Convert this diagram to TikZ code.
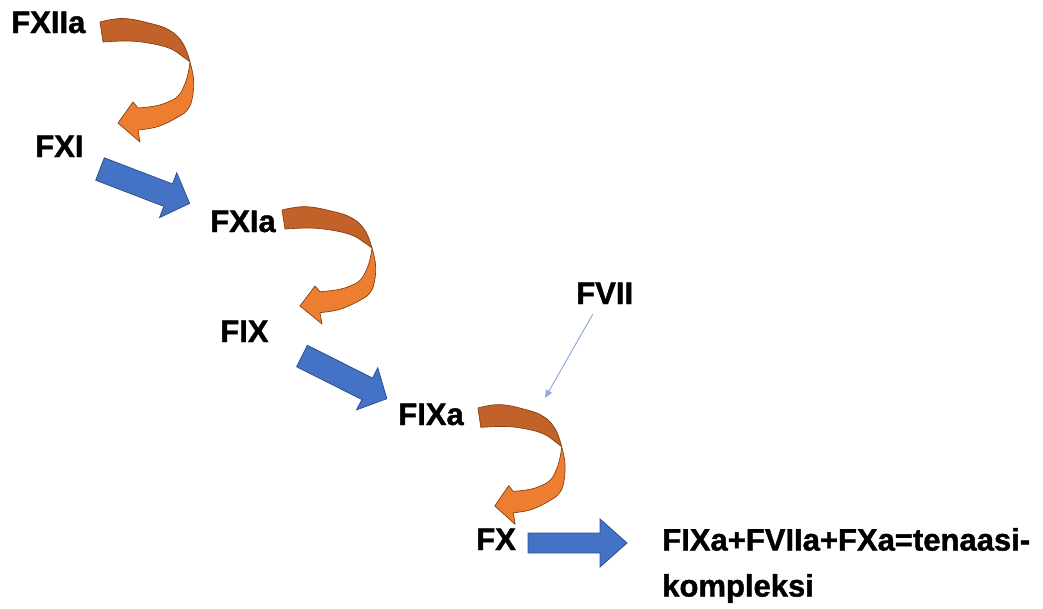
\documentclass[tikz,border=0pt]{standalone}
\usepackage{fontspec}
\setmainfont[BoldFeatures={FakeBold=1.3}]{Liberation Sans}
\usetikzlibrary{arrows.meta}

\definecolor{ribbonfront}{HTML}{ED7D31}
\definecolor{ribbonback}{HTML}{C0622A}
\definecolor{ribbonedge}{HTML}{843C0C}
\definecolor{blockfill}{HTML}{4472C4}
\definecolor{blockedge}{HTML}{2F528F}
\definecolor{thinblue}{HTML}{8FAADC}

\tikzset{
  factor/.style={font=\bfseries\fontsize{23.25}{34.5}\selectfont,
    inner xsep=0pt, inner ysep=7.5pt, anchor=base west},
  ribbon back/.style={fill=ribbonback, draw=ribbonedge, line width=0.5pt, line join=round},
  ribbon front/.style={fill=ribbonfront, draw=ribbonedge, line width=0.5pt, line join=round},
  block/.style={fill=blockfill, draw=blockedge, line width=0.6pt, line join=miter},
  activates/.style={draw=thinblue, line width=0.75pt,
    -{Triangle[length=6pt,width=5pt]}},
  % twisted ribbon arrow, origin at the upper corner of its tail
  pics/twist arrow/.style={code={
    \filldraw[ribbon back]
      plot[smooth,tension=0.7] coordinates {(0,0) (23,-3.5) (50,1.3) (70,8.5) (83,21.5) (90,40)}
      -- plot[smooth,tension=0.7] coordinates {(90,40) (83,34.7) (70,26.5) (50,21.3) (28,19) (3,20)}
      -- cycle;
    \filldraw[ribbon front]
      plot[smooth,tension=0.7] coordinates {(90,40) (93.5,57) (92.5,75) (88,87) (78,95) (58,104.5) (38,108)}
      -- (40,120) -- (18,101) -- (33,80) -- (38,86)
      -- plot[smooth,tension=0.7] coordinates {(38,86) (55,84) (68,80) (78,74) (84,64) (88,52) (90,40)}
      -- cycle;
  }},
  % straight block arrow: length, shaft width, head width, head length
  pics/block arrow/.style n args={4}{code={
    \filldraw[block] (0,-#2/2) -- (#1-#4,-#2/2) -- (#1-#4,-#3/2) -- (#1,0)
      -- (#1-#4,#3/2) -- (#1-#4,#2/2) -- (0,#2/2) -- cycle;
  }}
}

\begin{document}
\begin{tikzpicture}[x=0.75pt,y=-0.75pt]
\useasboundingbox (0,0) rectangle (1043,608);

% factor labels
\node[factor] (fxiia) at (11,33) {FXIIa};
\node[factor] (fxi)   at (35,157) {FXI};
\node[factor] (fxia)  at (210,232) {FXIa};
\node[factor] (fix)   at (220,342) {FIX};
\node[factor] (fixa)  at (398,425) {FIXa};
\node[factor] (fvii)  at (576,304) {FVII};
\node[factor] (fx)    at (476,550) {FX};
\node[factor, anchor=north west, inner ysep=0pt, align=left] (tenase)
  at (662,527.8) {FIXa+FVIIa+FXa=tenaasi-\\kompleksi};

% activation ribbons
\pic at (100,22) {twist arrow};
\pic[yscale=0.95] at (282,210) {twist arrow};
\pic[xscale=0.93,yscale=0.97] at (478,408) {twist arrow};

% conversion arrows
\pic[rotate=-21] at (100,169) {block arrow={96}{24}{48}{23}};
\pic[rotate=-26.7] at (302,356) {block arrow={95}{24}{47}{22}};
\pic at (528,543) {block arrow={99}{20}{48}{27}};

% FVII joins in
\coordinate (fviitip) at (545,398);
\draw[activates] (fvii) -- (fviitip);
\end{tikzpicture}
\end{document}
